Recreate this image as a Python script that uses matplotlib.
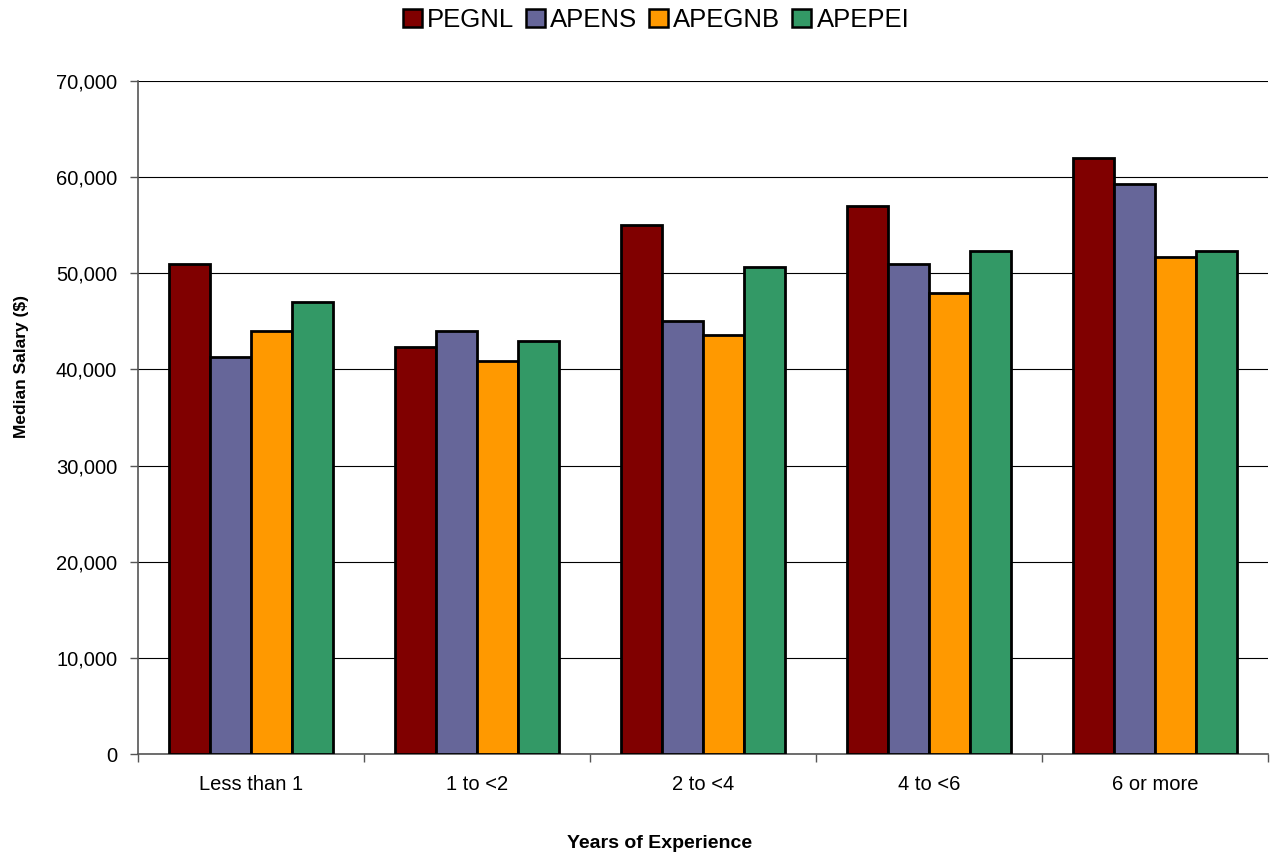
import matplotlib
matplotlib.use("Agg")
import matplotlib.pyplot as plt
import numpy as np
from matplotlib.ticker import FuncFormatter, FixedLocator
from matplotlib.patches import Patch

plt.rcParams['font.family'] = ['Liberation Sans', 'DejaVu Sans']

categories = ["Less than 1", "1 to <2", "2 to <4", "4 to <6", "6 or more"]
series_names = ["PEGNL", "APENS", "APEGNB", "APEPEI"]
pegnl = [51000, 42300, 55000, 57000, 62000]
apens = [41300, 44000, 45000, 51000, 59300]
apegnb = [44000, 40900, 43600, 48000, 51700]
apepei = [47000, 43000, 50700, 52300, 52300]
colors = ["#800000", "#666699", "#FF9900", "#339966"]

series = [pegnl, apens, apegnb, apepei]

fig = plt.figure(figsize=(12.70, 8.58), dpi=100)
ax = fig.add_axes([0.1087, 0.1212, 0.8898, 0.7844])

x = np.arange(len(categories))
bw = 0.182
for i, (vals, c) in enumerate(zip(series, colors)):
    ax.bar(x + (i - 1.5) * bw, vals, width=bw, color=c, edgecolor="black",
           linewidth=2.0, zorder=3)

ax.set_xlim(-0.5, len(categories) - 0.5)
ax.set_ylim(0, 70000)
ax.set_yticks(np.arange(0, 70001, 10000))
ax.yaxis.set_major_formatter(FuncFormatter(lambda v, p: f"{int(v):,}"))
ax.grid(axis="y", color="black", linewidth=0.8, zorder=0)

ax.set_xticks(x)
ax.set_xticklabels(categories)
ax.xaxis.set_minor_locator(FixedLocator(np.arange(-0.5, len(categories), 1.0)))
ax.tick_params(axis="x", which="major", length=0, pad=15, labelsize=14.5)
ax.tick_params(axis="x", which="minor", length=6, width=1, direction="out", color="#555555")
ax.tick_params(axis="y", length=6, width=1, direction="out", labelsize=14.5, pad=9, color="#555555")

for s in ["top", "right"]:
    ax.spines[s].set_visible(False)
ax.spines["left"].set_color("#555555")
ax.spines["bottom"].set_color("#555555")
ax.spines["left"].set_linewidth(1.2)
ax.spines["bottom"].set_linewidth(1.2)

fig.text(22 / 1270, 1 - 367 / 858, "Median Salary ($)", rotation=90, fontsize=12.5,
         fontweight="bold", ha="center", va="center")
fig.text(660 / 1270, 1 - 843 / 858, "Years of Experience", fontsize=14,
         fontweight="bold", ha="center", va="center")

handles = [Patch(facecolor=c, edgecolor="black", linewidth=1.8) for c in colors]
fig.legend(handles, series_names, loc="center", bbox_to_anchor=(656 / 1270, 1 - 20 / 858),
           ncol=4, frameon=False, fontsize=18.5, handlelength=0.75, handleheight=0.75,
           handletextpad=0.2, columnspacing=0.45, borderpad=0)

fig.savefig("out.png", dpi=100)
